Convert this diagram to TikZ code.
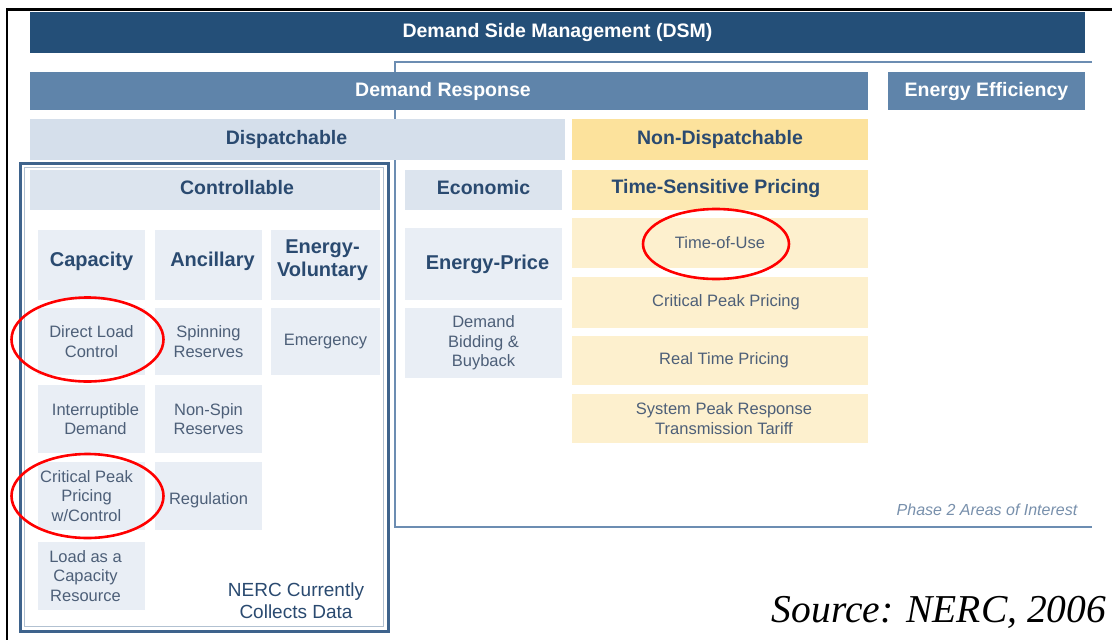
\documentclass[tikz,border=0pt]{standalone}
\usepackage{fontspec}
\setmainfont{Liberation Sans}
\newfontfamily\srcfont{Liberation Serif}
\definecolor{dsmblue}{HTML}{244F78}
\definecolor{drblue}{HTML}{5F84AA}
\definecolor{dispblue}{HTML}{D5DFEB}
\definecolor{ctrlblue}{HTML}{DCE4EE}
\definecolor{cellblue}{HTML}{E9EEF5}
\definecolor{ndyellow}{HTML}{FCE29C}
\definecolor{tsyellow}{HTML}{FDE9B2}
\definecolor{cellyellow}{HTML}{FDF0CE}
\definecolor{headtext}{HTML}{2A4A70}
\definecolor{celltext}{HTML}{4D5F78}
\definecolor{frameblue}{HTML}{6C8DB2}
\definecolor{ctrlframe}{HTML}{3E638C}
\definecolor{phasetext}{HTML}{7890AC}
\begin{document}
\begin{tikzpicture}[x=1pt,y=-1pt,
  box/.style={inner sep=0pt, outer sep=0pt, align=center},
  bar/.style={box, text=white, font=\fontsize{19.5}{22}\bfseries\selectfont},
  head/.style={box, text=headtext, font=\fontsize{19.5}{22}\bfseries\selectfont},
  bighead/.style={box, text=headtext, font=\fontsize{20}{23}\bfseries\selectfont},
  cell/.style={box, text=celltext, font=\fontsize{16.5}{19.5}\selectfont},
  ring/.style={draw=red, line width=2.6pt}]
\useasboundingbox (0,0) rectangle (1112,640);
\fill[white] (0,0) rectangle (1112,640);
% outer black frame
\draw[black, line width=2.5pt] (7,640) -- (7,9.5) -- (1112,9.5);
% phase 2 frame
\coordinate (p2tl) at (395,62);
\coordinate (p2tr) at (1092,62);
\coordinate (p2bl) at (395,527);
\coordinate (p2br) at (1092,527);
\draw[frameblue, line width=2.5pt] (p2tr) -- (p2tl) -- (p2bl) -- (p2br);
% DSM
\node[bar, fill=dsmblue, minimum width=1055, minimum height=41] (dsm) at (557.5,32) {Demand Side Management (DSM)};
% Demand response
\node[bar, fill=drblue, minimum width=838, minimum height=38] (dr) at (449,91) {\hspace*{-12pt}Demand Response};
\node[bar, fill=drblue, minimum width=197, minimum height=38] (ee) at (986.5,91) {Energy Efficiency};
% Dispatchable
\node[head, fill=dispblue, minimum width=535, minimum height=41] (disp) at (297.5,139.5) {\hspace*{-22pt}Dispatchable};
\node[head, fill=ndyellow, minimum width=296, minimum height=41] (nd) at (720,139.5) {Non-Dispatchable};
% Controllable frame
\draw[ctrlframe, line width=3pt] (20,163) rectangle (388,631);
\draw[ctrlframe!40, line width=1pt] (24.5,167.5) rectangle (383.5,626.5);
\node[box, fill=ctrlblue, minimum width=350, minimum height=40] (ctrl) at (205,190) {};
\node[head] (ctrlt) at ([xshift=32pt,yshift=2pt]ctrl.center) {Controllable};
\node[box, fill=ctrlblue, minimum width=157, minimum height=40] (econ) at (483.5,190) {};
\node[head] (econt) at ([yshift=2pt]econ.center) {Economic};
\node[box, fill=tsyellow, minimum width=296, minimum height=40] (tsp) at (720,190) {};
\node[head] (tspt) at ([xshift=-4pt,yshift=2pt]tsp.center) {Time-Sensitive Pricing};
% Controllable columns
\node[box, fill=cellblue, minimum width=107, minimum height=70] (cap) at (91.5,265) {};
\node[bighead] (capt) at ([yshift=4pt]cap.center) {Capacity};
\node[box, fill=cellblue, minimum width=107, minimum height=70] (anc) at (208.5,265) {};
\node[bighead] (anct) at ([xshift=4pt,yshift=4pt]anc.center) {Ancillary};
\node[box, fill=cellblue, minimum width=109, minimum height=70] (ev) at (325.5,265) {};
\node[bighead] (evt) at ([xshift=-3pt,yshift=5pt]ev.center) {Energy-\\Voluntary};
\node[cell, fill=cellblue, minimum width=107, minimum height=67] (dlc) at (91.5,341.5) {Direct Load\\Control};
\node[cell, fill=cellblue, minimum width=107, minimum height=67] (spin) at (208.5,341.5) {Spinning\\Reserves};
\node[cell, fill=cellblue, minimum width=109, minimum height=67] (emer) at (325.5,341.5) {Emergency};
\node[cell, fill=cellblue, minimum width=107, minimum height=68] (intd) at (91.5,419) {\hspace*{8pt}Interruptible\\\hspace*{8pt}Demand};
\node[cell, fill=cellblue, minimum width=107, minimum height=68] (nspin) at (208.5,419) {Non-Spin\\Reserves};
\node[cell, fill=cellblue, minimum width=107, minimum height=68] (cppc) at (91.5,496) {\hspace*{-10pt}Critical Peak\\\hspace*{-10pt}Pricing\\\hspace*{-10pt}w/Control};
\node[box, fill=cellblue, minimum width=107, minimum height=68] (reg) at (208.5,496) {};
\node[cell] (regt) at ([yshift=-4pt]reg.center) {Regulation};
\node[cell, fill=cellblue, minimum width=107, minimum height=68] (lacr) at (91.5,576) {\hspace*{-12pt}Load as a\\\hspace*{-12pt}Capacity\\\hspace*{-12pt}Resource};
\node[box, text=headtext, font=\fontsize{19}{22}\selectfont] (nerc) at (296,601) {NERC Currently\\Collects Data};
% Economic column
\node[bighead, fill=cellblue, minimum width=157, minimum height=72] (ep) at (483.5,264) {\hspace*{8pt}Energy-Price};
\node[cell, fill=cellblue, minimum width=157, minimum height=70] (dbb) at (483.5,343) {Demand\\Bidding \&\\Buyback};
% Time-sensitive pricing cells
\node[cell, fill=cellyellow, minimum width=296, minimum height=50] (tou) at (720,243) {Time-of-Use};
\node[cell, fill=cellyellow, minimum width=296, minimum height=51] (cpp) at (720,302.5) {\hspace*{12pt}Critical Peak Pricing};
\node[cell, fill=cellyellow, minimum width=296, minimum height=49] (rtp) at (720,360.5) {\hspace*{8pt}Real Time Pricing};
\node[cell, fill=cellyellow, minimum width=296, minimum height=49] (sprt) at (720,418.5) {\hspace*{8pt}System Peak Response\\\hspace*{8pt}Transmission Tariff};
% labels
\node[box, text=phasetext, font=\fontsize{16}{18}\itshape\selectfont] (phase) at (987,510) {Phase 2 Areas of Interest};
\node[box, font=\fontsize{39.5}{42}\srcfont\itshape\selectfont] (src) at (939,612) {Source: NERC, 2006};
% red rings
\draw[ring] (dlc.center) ++(-4,-2) ellipse [x radius=76, y radius=42];
\draw[ring] (cppc.center) ++(-4,0) ellipse [x radius=76, y radius=42];
\draw[ring] (tou.center) ++(-4,1) ellipse [x radius=73, y radius=35];
\end{tikzpicture}
\end{document}
